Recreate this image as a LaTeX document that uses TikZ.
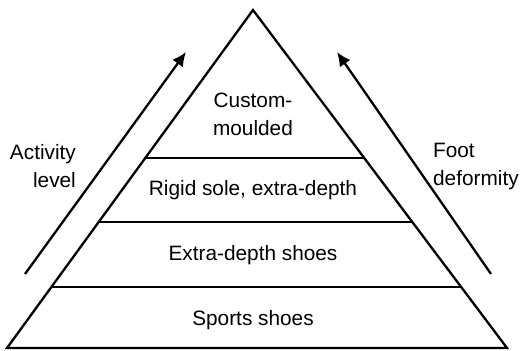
\documentclass[tikz,border=0pt]{standalone}
\usepackage{fontspec}
\setmainfont{Liberation Sans}
\usetikzlibrary{calc,arrows.meta}

\begin{document}
\begin{tikzpicture}[x=0.5pt,y=-0.5pt,line width=1.15pt,
    lbl/.style={font=\fontsize{10.4}{14}\selectfont,inner sep=0pt},
    upArrow/.style={-{Latex[length=7pt,width=6.5pt]}}]
        \useasboundingbox (0,0) rectangle (520,350);
        % pyramid
        \coordinate (apex) at (253,10);
        \coordinate (bl) at (7,348);
        \coordinate (br) at (507,348);
        \draw[line join=miter] (bl) -- (apex) -- (br) -- cycle;
        \foreach \f in {0.438,0.627,0.8195} {
            \draw ($(apex)!\f!(bl)$) -- ($(apex)!\f!(br)$);
        }
        \node[lbl,align=center] (custom) at (253,114) {Custom-\\moulded};
        \node[lbl] (rigid) at (253,190) {Rigid sole, extra-depth};
        \node[lbl] (extra) at (253,255) {Extra-depth shoes};
        \node[lbl] (sports) at (253,320) {Sports shoes};
        % side arrows
        \coordinate (actTail) at (25,274);
        \coordinate (actHead) at (186,52);
        \coordinate (defTail) at (491,274);
        \coordinate (defHead) at (337,52);
        \draw[upArrow] (actTail) -- (actHead);
        \draw[upArrow] (defTail) -- (defHead);
        \node[lbl,align=right,anchor=east] (activity) at (77,166) {Activity\\level};
        \node[lbl,align=left,anchor=west] (deform) at (432,166) {Foot\\deformity};
    \end{tikzpicture}
\end{document}
